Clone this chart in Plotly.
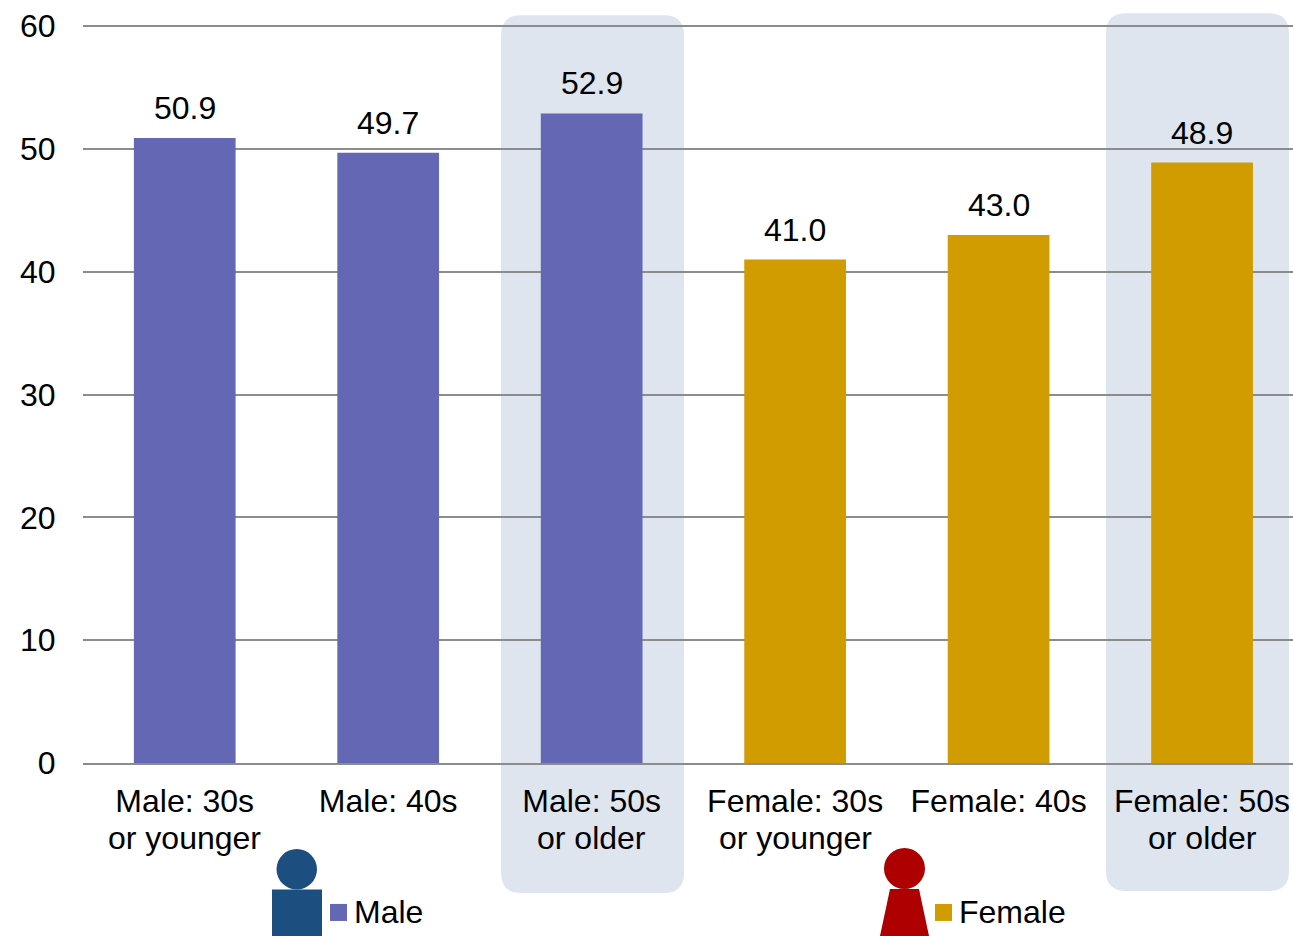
import plotly.graph_objects as go

# Survey results by gender and age band
male_categories = ["Male: 30s", "Male: 40s", "Male: 50s"]
female_categories = ["Female: 30s", "Female: 40s", "Female: 50s"]
male_values = [50.9, 49.7, 52.9]
female_values = [41.0, 43.0, 48.9]
second_lines = ["or younger", "", "or older", "or younger", "", "or older"]
y_ticks = [0, 10, 20, 30, 40, 50, 60]

MALE_COLOR = "#6467B4"
FEMALE_COLOR = "#D19C00"
MALE_ICON = "#1C4E80"
FEMALE_ICON = "#AE0000"
HIGHLIGHT = "#DFE5EE"
GRID = "#8C8C8C"
TEXT = "#000000"
FONT = "Liberation Sans, Arial, sans-serif"
FONT_SIZE = 32

WIDTH, HEIGHT = 1293, 936
# Plot area in page pixels; the y range runs a hair past 60 so its gridline is kept
Y_MAX = 60.1
LEFT, RIGHT, BOTTOM = 83, 1293, 763
TOP = BOTTOM - Y_MAX * (737 / 60)


def px(x):
    return (x - LEFT) / (RIGHT - LEFT)


def py(y):
    return (BOTTOM - y) / (BOTTOM - TOP)


def rounded_box(x0, y0, x1, y1, r):
    """Rounded rectangle path from page-pixel corners, in paper coordinates."""
    rx, ry = r / (RIGHT - LEFT), r / (BOTTOM - TOP)
    a, b, c, d = px(x0), py(y0), px(x1), py(y1)
    return (
        f"M {a + rx} {b} L {c - rx} {b} Q {c} {b} {c} {b - ry} "
        f"L {c} {d + ry} Q {c} {d} {c - rx} {d} "
        f"L {a + rx} {d} Q {a} {d} {a} {d + ry} "
        f"L {a} {b - ry} Q {a} {b} {a + rx} {b} Z"
    )


def paper_shape(kind, x0, y0, x1, y1, color, layer="above"):
    return dict(
        type=kind, xref="paper", yref="paper", layer=layer,
        x0=px(x0), x1=px(x1), y0=py(y0), y1=py(y1),
        fillcolor=color, line=dict(width=0),
    )


def poly(points, color):
    path = "M " + " L ".join(f"{px(x)} {py(y)}" for x, y in points) + " Z"
    return dict(type="path", xref="paper", yref="paper", path=path,
                fillcolor=color, line=dict(width=0), layer="above")


fig = go.Figure()
annotations = []
for cats, vals, color, name in (
    (male_categories, male_values, MALE_COLOR, "Male"),
    (female_categories, female_values, FEMALE_COLOR, "Female"),
):
    fig.add_bar(
        x=cats, y=vals, name=name, width=0.5,
        marker=dict(color=color, line=dict(width=0)),
        showlegend=False,
    )
    # Value labels sit a fixed distance above each bar
    for cat, val in zip(cats, vals):
        annotations.append(dict(
            x=cat, y=val, xref="x", yref="y", text=f"{val:.1f}",
            showarrow=False, xanchor="center", yanchor="bottom", yshift=10,
            font=dict(family=FONT, size=FONT_SIZE, color=TEXT),
        ))

shapes = [
    # Highlight panels behind the oldest age band of each gender
    dict(type="path", xref="paper", yref="paper", layer="below",
         path=rounded_box(501, 15, 684, 893, 20),
         fillcolor=HIGHLIGHT, line=dict(width=0)),
    dict(type="path", xref="paper", yref="paper", layer="below",
         path=rounded_box(1106, 13, 1289, 891, 20),
         fillcolor=HIGHLIGHT, line=dict(width=0)),
    # Person icons and legend swatches
    paper_shape("circle", 276.5, 849, 317, 889.5, MALE_ICON),
    paper_shape("rect", 272, 889.5, 322, 936, MALE_ICON),
    paper_shape("rect", 330, 904, 347, 921, MALE_COLOR),
    paper_shape("circle", 884, 848, 925, 889, FEMALE_ICON),
    poly([(890, 889), (919, 889), (929, 936), (880, 936)], FEMALE_ICON),
    paper_shape("rect", 935, 904, 952, 921, FEMALE_COLOR),
]

all_categories = male_categories + female_categories
annotations += [
    dict(
        x=cat, xref="x", y=py(838), yref="paper", text=line,
        showarrow=False, xanchor="center", yanchor="middle",
        font=dict(family=FONT, size=FONT_SIZE, color=TEXT),
    )
    for cat, line in zip(all_categories, second_lines) if line
]
for label, x in (("Male", 354), ("Female", 959)):
    annotations.append(dict(
        x=px(x), xref="paper", y=py(912), yref="paper", text=label,
        showarrow=False, xanchor="left", yanchor="middle", xshift=-2,
        font=dict(family=FONT, size=FONT_SIZE, color=TEXT),
    ))

fig.update_layout(
    width=WIDTH, height=HEIGHT, autosize=False,
    margin=dict(l=LEFT, r=WIDTH - RIGHT, t=TOP, b=HEIGHT - BOTTOM, pad=0),
    paper_bgcolor="#FFFFFF", plot_bgcolor="rgba(0,0,0,0)",
    barmode="overlay", shapes=shapes, annotations=annotations,
    font=dict(family=FONT, size=FONT_SIZE, color=TEXT),
)
fig.update_xaxes(
    type="category", categoryorder="array", categoryarray=all_categories,
    range=[-0.5, 5.447], showgrid=False, ticks="outside", ticklen=9, tickcolor="rgba(0,0,0,0)",
    showline=True, linecolor=GRID, linewidth=2,
    tickfont=dict(family=FONT, size=FONT_SIZE, color=TEXT),
)
fig.update_yaxes(
    range=[0, Y_MAX], tickvals=y_ticks, showgrid=True, gridcolor=GRID, gridwidth=2,
    zeroline=False, showline=False, ticks="outside", ticklen=20, tickcolor="rgba(0,0,0,0)",
    tickfont=dict(family=FONT, size=FONT_SIZE, color=TEXT),
)

fig.write_html("out.html", config=dict(displayModeBar=False))
